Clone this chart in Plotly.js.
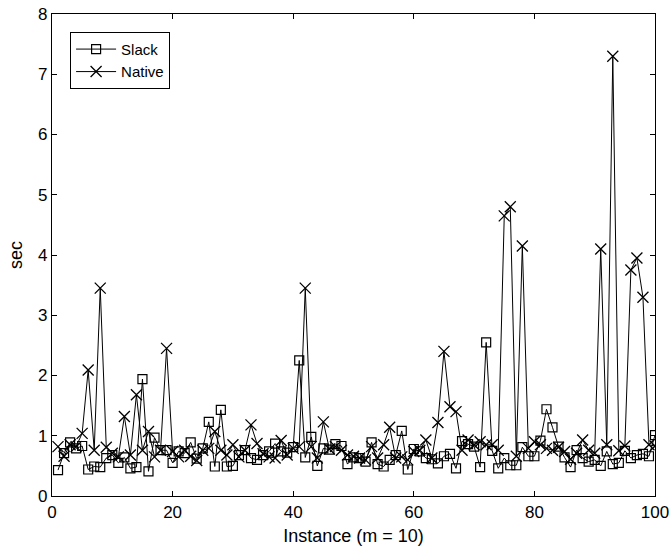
<!DOCTYPE html>
<html>
<head>
<meta charset="utf-8">
<script src="https://cdn.plot.ly/plotly-3.0.1.min.js"></script>
<style>html,body{margin:0;padding:0;background:#fff;}#chart{width:670px;height:555px;}</style>
</head>
<body>
<div id="chart"></div>
<script>
const instances = Array.from({length: 100}, (_, k) => k + 1);

const slack = [
  0.43, 0.71, 0.89, 0.79, 0.83, 0.44, 0.49, 0.48, 0.63, 0.68,
  0.55, 0.64, 0.46, 0.48, 1.94, 0.41, 0.97, 0.76, 0.76, 0.55,
  0.74, 0.71, 0.89, 0.62, 0.79, 1.23, 0.49, 1.43, 0.49, 0.50,
  0.68, 0.76, 0.63, 0.60, 0.68, 0.74, 0.87, 0.74, 0.72, 0.81,
  2.25, 0.64, 0.98, 0.50, 0.79, 0.77, 0.86, 0.83, 0.53, 0.64,
  0.63, 0.57, 0.89, 0.53, 0.49, 0.60, 0.68, 1.08, 0.44, 0.78,
  0.74, 0.63, 0.61, 0.54, 0.66, 0.70, 0.46, 0.91, 0.86, 0.82,
  0.48, 2.55, 0.75, 0.46, 0.63, 0.51, 0.51, 0.81, 0.66, 0.66,
  0.92, 1.44, 1.14, 0.82, 0.64, 0.48, 0.76, 0.63, 0.57, 0.60,
  0.50, 0.74, 0.53, 0.55, 0.75, 0.63, 0.68, 0.70, 0.66, 1.01
];

const native = [
  0.82, 0.66, 0.85, 0.82, 1.04, 2.09, 0.76, 3.45, 0.81, 0.71,
  0.65, 1.32, 0.68, 1.68, 0.76, 1.07, 0.65, 0.76, 2.45, 0.74,
  0.65, 0.76, 0.66, 0.59, 0.76, 0.79, 1.07, 0.76, 0.68, 0.85,
  0.65, 0.76, 1.18, 0.87, 0.70, 0.65, 0.63, 0.92, 0.68, 0.79,
  0.82, 3.45, 0.82, 0.63, 1.23, 0.78, 0.82, 0.76, 0.68, 0.66,
  0.63, 0.60, 0.82, 0.63, 0.85, 1.14, 0.63, 0.65, 0.60, 0.74,
  0.76, 0.93, 0.63, 1.22, 2.40, 1.48, 1.40, 0.76, 0.93, 0.85,
  0.90, 0.85, 0.85, 0.76, 4.65, 4.80, 0.66, 4.15, 0.79, 0.90,
  0.85, 0.79, 0.76, 0.81, 0.74, 0.61, 0.71, 0.93, 0.76, 0.71,
  4.10, 0.85, 7.30, 0.75, 0.83, 3.75, 3.95, 3.30, 0.85, 0.83
];

const seriesNames = ['Slack', 'Native'];
const xTicks = [0, 20, 40, 60, 80, 100];
const yTicks = [0, 1, 2, 3, 4, 5, 6, 7, 8];

const traces = [
  {
    x: instances, y: slack, name: seriesNames[0], type: 'scatter', mode: 'lines+markers',
    line: {color: '#000', width: 1},
    marker: {symbol: 'square-open', size: 9, color: '#000', line: {color: '#000', width: 1.2}}
  },
  {
    x: instances, y: native, name: seriesNames[1], type: 'scatter', mode: 'lines+markers',
    line: {color: '#000', width: 1},
    marker: {symbol: 'x-thin-open', size: 11, color: '#000', line: {color: '#000', width: 1.3}}
  }
];

const axisCommon = {
  showgrid: false, zeroline: false, showline: true, linecolor: '#000', linewidth: 1.2,
  mirror: 'ticks', ticks: 'inside', ticklen: 5, tickcolor: '#000',
  tickfont: {family: 'Liberation Sans, Arial, sans-serif', size: 17, color: '#000'}
};

const layout = {
  width: 670, height: 555,
  margin: {l: 52, r: 15, t: 14, b: 59},
  paper_bgcolor: '#fff', plot_bgcolor: '#fff',
  showlegend: true,
  font: {family: 'Liberation Sans, Arial, sans-serif', color: '#000'},
  xaxis: Object.assign({}, axisCommon, {
    range: [0, 100], tickvals: xTicks, ticktext: xTicks.map(String),
    title: {text: 'Instance (m = 10)', font: {size: 18, color: '#000'}, standoff: 8}
  }),
  yaxis: Object.assign({}, axisCommon, {
    range: [0, 8], tickvals: yTicks, ticktext: yTicks.map(String),
    title: {text: 'sec', font: {size: 18, color: '#000'}, standoff: 10}
  }),
  legend: {
    x: 0.03, y: 0.963, xanchor: 'left', yanchor: 'top',
    bgcolor: '#fff', bordercolor: '#000', borderwidth: 1,
    font: {size: 15, color: '#000'}, tracegroupgap: 2, itemwidth: 40,
    entrywidth: 115, entrywidthmode: 'pixels'
  }
};

Plotly.newPlot('chart', traces, layout, {displayModeBar: false, staticPlot: true});
</script>
</body>
</html>
